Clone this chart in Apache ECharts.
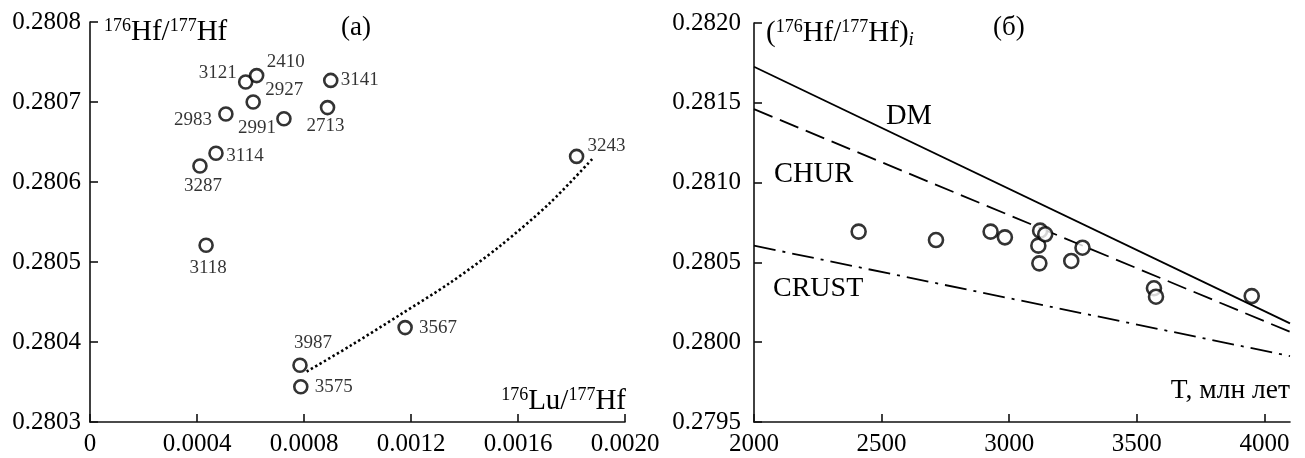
<!DOCTYPE html>
<html>
<head>
<meta charset="utf-8">
<script src="https://cdn.jsdelivr.net/npm/echarts@6/dist/echarts.min.js"></script>
<style>
  html, body { margin: 0; padding: 0; background: #fff; }
  #chart { width: 1305px; height: 458px; }
</style>
</head>
<body>
<div id="chart"></div>
<script>
// ---- Panel (а): 176Hf/177Hf vs 176Lu/177Hf, zircon ages as labels ----
const sampleAges = [3121, 2410, 2927, 3141, 2983, 2991, 2713, 3114, 3287, 3118, 3243, 3567, 3987, 3575];
const luHf = [0.000582, 0.000623, 0.000610, 0.000900, 0.000508, 0.000725, 0.000888, 0.000471, 0.000411, 0.000434, 0.001819, 0.001178, 0.000785, 0.000788];
const hfHf = [0.280725, 0.280733, 0.280700, 0.280727, 0.280685, 0.280679, 0.280693, 0.280636, 0.280620, 0.280521, 0.280632, 0.280418, 0.280371, 0.280344];

// dotted trend through the high-Lu group
const trendLu = [0.000810, 0.000972, 0.001159, 0.001346, 0.001533, 0.001720, 0.001881];
const trendHf = [0.280363, 0.280395, 0.280434, 0.280474, 0.280520, 0.280574, 0.280630];

const luTicks = [0, 0.0004, 0.0008, 0.0012, 0.0016, 0.0020];
const hfTicksA = [0.2803, 0.2804, 0.2805, 0.2806, 0.2807, 0.2808];

// ---- Panel (б): initial 176Hf/177Hf vs age T ----
const ageT = [2410, 2713, 2927, 2983, 3114, 3118, 3121, 3141, 3243, 3287, 3567, 3575, 3950];
const hfInitial = [0.280693, 0.280640, 0.280693, 0.280657, 0.280605, 0.280494, 0.280699, 0.280676, 0.280509, 0.280592, 0.280338, 0.280285, 0.280289];

const dmT = [2000, 4100];
const dmHf = [0.281726, 0.280118];
const churT = [2000, 4100];
const churHf = [0.281460, 0.280065];
const crustT = [2000, 4100];
const crustHf = [0.280605, 0.279913];

const ageTicks = [2000, 2500, 3000, 3500, 4000];
const hfTicksB = [0.2795, 0.2800, 0.2805, 0.2810, 0.2815, 0.2820];

// label placement around each circle in panel (а), [dx, dy] from the centre
const labelShift = {
  3121: [-28, -9], 2410: [29, -14], 2927: [31, -12], 3141: [29, 0],
  2983: [-33, 6], 2991: [-27, 9], 2713: [-2, 18], 3114: [29, 3],
  3287: [3, 20], 3118: [2, 23], 3243: [30, -10], 3567: [33, 0],
  3987: [13, -22], 3575: [33, 0]
};

const FONT = '"Liberation Serif", "DejaVu Serif", serif';
const INK = '#000';

const zip = (a, b) => a.map((v, i) => [v, b[i]]);

const axisCommon = {
  axisLine: { show: true, lineStyle: { color: '#111', width: 1.6 } },
  axisTick: { show: true, inside: true, length: 8, lineStyle: { color: '#111', width: 1.6 } },
  splitLine: { show: false },
  axisLabel: { color: INK, fontFamily: FONT, fontSize: 25 }
};

const circleStyle = { color: '#fff', borderColor: INK, borderWidth: 2.6 };

const richTitle = {
  s: { fontFamily: FONT, fontSize: 18, verticalAlign: 'top', lineHeight: 18, fill: INK },
  b: { fontFamily: FONT, fontSize: 29, lineHeight: 31, fill: INK },
  i: { fontFamily: FONT, fontSize: 19, fontStyle: 'italic', verticalAlign: 'bottom', lineHeight: 19, fill: INK }
};

const option = {
  backgroundColor: '#fff',
  animation: false,
  textStyle: { fontFamily: FONT },
  grid: [
    { left: 90, top: 22, width: 535, height: 400 },
    { left: 754, top: 23, width: 536, height: 399 }
  ],
  xAxis: [
    Object.assign({}, axisCommon, {
      gridIndex: 0, type: 'value', min: 0, max: 0.002, interval: 0.0004,
      axisLabel: Object.assign({}, axisCommon.axisLabel, {
        margin: 10,
        customValues: luTicks,
        formatter: v => (v === 0 ? '0' : v.toFixed(4))
      }),
      axisTick: Object.assign({}, axisCommon.axisTick, { customValues: luTicks })
    }),
    Object.assign({}, axisCommon, {
      gridIndex: 1, type: 'value', min: 2000, max: 4100, interval: 500,
      axisLabel: Object.assign({}, axisCommon.axisLabel, {
        margin: 10,
        customValues: ageTicks,
        formatter: v => String(v)
      }),
      axisTick: Object.assign({}, axisCommon.axisTick, { customValues: ageTicks })
    })
  ],
  yAxis: [
    Object.assign({}, axisCommon, {
      gridIndex: 0, type: 'value', min: 0.2803, max: 0.2808, interval: 0.0001,
      axisLabel: Object.assign({}, axisCommon.axisLabel, {
        margin: 9,
        customValues: hfTicksA,
        formatter: v => v.toFixed(4)
      }),
      axisTick: Object.assign({}, axisCommon.axisTick, { customValues: hfTicksA })
    }),
    Object.assign({}, axisCommon, {
      gridIndex: 1, type: 'value', min: 0.2795, max: 0.2820, interval: 0.0005,
      axisLabel: Object.assign({}, axisCommon.axisLabel, {
        margin: 13,
        customValues: hfTicksB,
        formatter: v => v.toFixed(4)
      }),
      axisTick: Object.assign({}, axisCommon.axisTick, { customValues: hfTicksB })
    })
  ],
  series: [
    {
      name: 'trend',
      type: 'line',
      xAxisIndex: 0, yAxisIndex: 0,
      data: zip(trendLu, trendHf),
      smooth: 0.3,
      symbol: 'none',
      lineStyle: { color: INK, width: 2.6, type: [2.4, 2.6] },
      z: 2
    },
    {
      name: 'zircons',
      type: 'scatter',
      xAxisIndex: 0, yAxisIndex: 0,
      symbol: 'circle',
      symbolSize: 13,
      itemStyle: circleStyle,
      z: 3,
      data: sampleAges.map((age, i) => ({
        value: [luHf[i], hfHf[i]],
        label: {
          show: true,
          formatter: String(age),
          position: 'inside',
          offset: labelShift[age],
          color: INK,
          fontFamily: FONT,
          fontSize: 19
        }
      }))
    },
    {
      name: 'DM',
      type: 'line',
      xAxisIndex: 1, yAxisIndex: 1,
      data: zip(dmT, dmHf),
      symbol: 'none',
      lineStyle: { color: INK, width: 1.8, type: 'solid' }
    },
    {
      name: 'CHUR',
      type: 'line',
      xAxisIndex: 1, yAxisIndex: 1,
      data: zip(churT, churHf),
      symbol: 'none',
      lineStyle: { color: INK, width: 1.8, type: [20, 8] }
    },
    {
      name: 'CRUST',
      type: 'line',
      xAxisIndex: 1, yAxisIndex: 1,
      data: zip(crustT, crustHf),
      symbol: 'none',
      lineStyle: { color: INK, width: 1.8, type: [22, 7, 3, 7] }
    },
    {
      name: 'initial',
      type: 'scatter',
      xAxisIndex: 1, yAxisIndex: 1,
      symbol: 'circle',
      symbolSize: 14,
      itemStyle: circleStyle,
      z: 3,
      data: zip(ageT, hfInitial)
    }
  ],
  graphic: [
    // panel (а) axis titles
    {
      type: 'text', left: 104, top: 17, z: 10,
      style: { text: '{s|176}{b|Hf/}{s|177}{b|Hf}', fill: INK, rich: richTitle }
    },
    {
      type: 'text', right: 679, top: 386, z: 10,
      style: { text: '{s|176}{b|Lu/}{s|177}{b|Hf}', fill: INK, rich: richTitle }
    },
    {
      type: 'text', left: 341, top: 14, z: 10,
      style: { text: '(а)', fontFamily: FONT, fontSize: 27, fill: INK }
    },
    // panel (б) axis titles
    {
      type: 'text', left: 766, top: 18, z: 10,
      style: { text: '{b|(}{s|176}{b|Hf/}{s|177}{b|Hf)}{i|i}', fill: INK, rich: richTitle }
    },
    {
      type: 'text', right: 15, top: 377, z: 10,
      style: { text: 'T, млн лет', fontFamily: FONT, fontSize: 27.5, fill: INK }
    },
    {
      type: 'text', left: 993, top: 14, z: 10,
      style: { text: '(б)', fontFamily: FONT, fontSize: 27, fill: INK }
    },
    // reservoir curve names
    {
      type: 'text', left: 886, top: 102, z: 10,
      style: { text: 'DM', fontFamily: FONT, fontSize: 28.5, fill: INK }
    },
    {
      type: 'text', left: 774, top: 160, z: 10,
      style: { text: 'CHUR', fontFamily: FONT, fontSize: 28.5, fill: INK }
    },
    {
      type: 'text', left: 773, top: 275, z: 10,
      style: { text: 'CRUST', fontFamily: FONT, fontSize: 28, fill: INK }
    }
  ]
};

const chart = echarts.init(document.getElementById('chart'), null, { renderer: 'canvas' });
chart.setOption(option);
</script>
</body>
</html>
